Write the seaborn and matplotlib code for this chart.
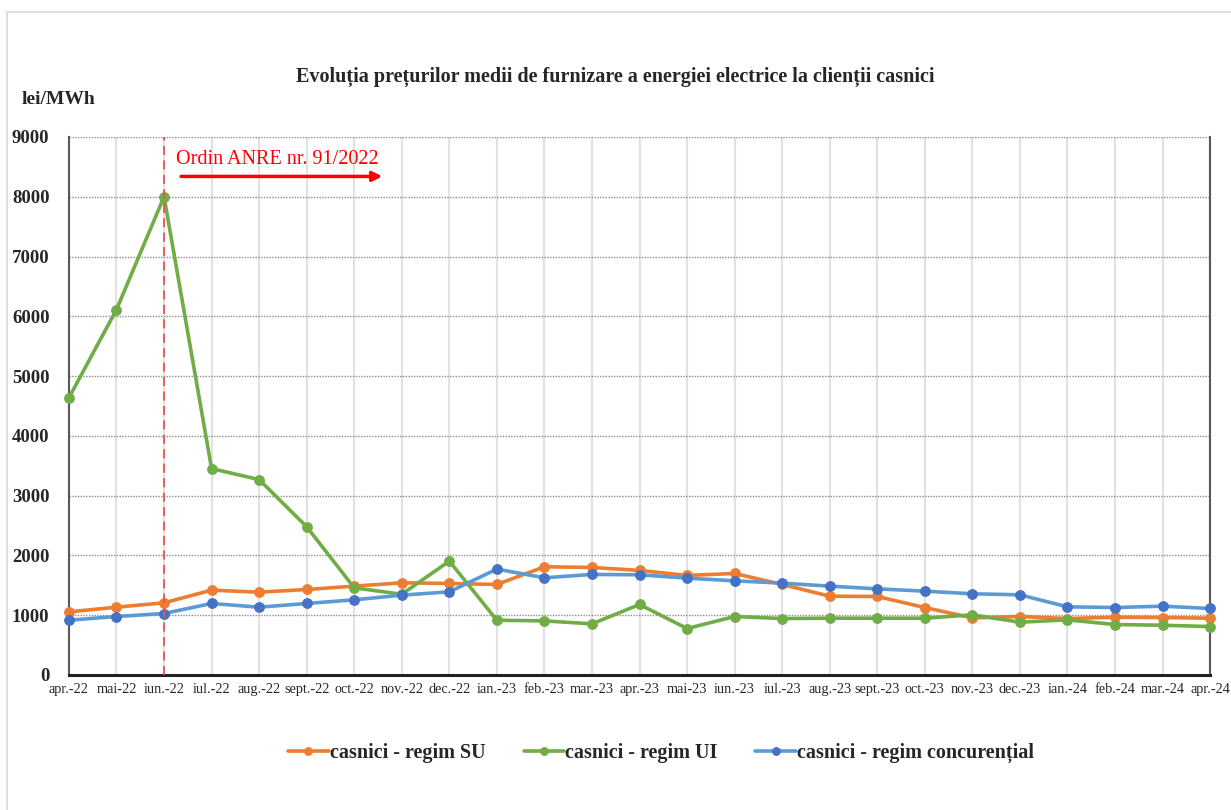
import seaborn as sns
import pandas as pd
import numpy as np
import matplotlib.pyplot as plt
from matplotlib.patches import Rectangle

months = ['apr.-22', 'mai-22', 'iun.-22', 'iul.-22', 'aug.-22', 'sept.-22', 'oct.-22', 'nov.-22',
          'dec.-22', 'ian.-23', 'feb.-23', 'mar.-23', 'apr.-23', 'mai-23', 'iun.-23', 'iul.-23',
          'aug.-23', 'sept.-23', 'oct.-23', 'nov.-23', 'dec.-23', 'ian.-24', 'feb.-24', 'mar.-24',
          'apr.-24']

regim_su = [1056, 1134, 1207, 1419, 1385, 1430, 1486, 1542, 1531, 1514, 1810, 1799, 1749,
            1665, 1698, 1514, 1318, 1313, 1128, 955, 978, 944, 966, 961, 950]
regim_ui = [4637, 6112, 8000, 3453, 3268, 2480, 1458, 1350, 1905, 916, 905, 855, 1179,
            777, 978, 944, 950, 950, 950, 1006, 883, 922, 844, 832, 810]
regim_conc = [916, 978, 1028, 1196, 1134, 1196, 1257, 1335, 1391, 1771, 1626, 1682, 1676,
              1620, 1575, 1536, 1486, 1441, 1402, 1358, 1341, 1140, 1128, 1151, 1112]

labels = ['casnici - regim SU', 'casnici - regim UI', 'casnici - regim concurențial']

df = pd.DataFrame({'idx': np.arange(len(months)), 'luna': months,
                   'SU': regim_su, 'UI': regim_ui, 'conc': regim_conc})

sns.set_style('white')
plt.rcParams['font.family'] = ['Liberation Serif', 'DejaVu Serif']

fig = plt.figure(figsize=(12.31, 8.10), dpi=100)
ax = fig.add_axes([0.056, 0.1667, 0.927, 0.6642])

# outer chart border
fig.patches.append(Rectangle((7 / 1231, -0.1), 1.2, (810 - 12) / 810 + 0.1,
                             transform=fig.transFigure, fill=False,
                             edgecolor='#D9D9D9', lw=1.2, zorder=0))

# vertical grid at each month, dotted horizontal grid
for i in range(len(months)):
    ax.axvline(i, color='#E2E2E2', lw=1.5, zorder=0)
for v in range(1000, 10000, 1000):
    ax.axhline(v, color='#8C8C8C', lw=1, ls=(0, (1, 1)), zorder=0.5)

sns.lineplot(data=df, x='idx', y='SU', ax=ax, color='#ED7D31', lw=2.6, marker='o',
             markersize=7, markeredgecolor='#ED7D31', label=labels[0], zorder=3,
             clip_on=False)
sns.lineplot(data=df, x='idx', y='UI', ax=ax, color='#70AD47', lw=2.6, marker='o',
             markersize=7, markeredgecolor='#70AD47', label=labels[1], zorder=3,
             clip_on=False)
sns.lineplot(data=df, x='idx', y='conc', ax=ax, color='#5B9BD5', lw=2.6, marker='o',
             markersize=7, markerfacecolor='#4472C4', markeredgecolor='#4472C4',
             label=labels[2], zorder=3, clip_on=False)

# Ordin ANRE marker
ax.axvline(2, color='#F05050', lw=1.3, ls=(0, (5, 3)), zorder=4)
ax.text(2.25, 8620, 'Ordin ANRE nr. 91/2022', color='red', fontsize=14.5,
        ha='left', va='center')
ax.annotate('', xy=(6.65, 8340), xytext=(2.3, 8340),
            arrowprops=dict(arrowstyle='-|>', color='red', lw=2.5, mutation_scale=14))

ax.set_xlim(0, len(months) - 1)
ax.set_ylim(0, 9000)
ax.set_xticks(df['idx'])
ax.set_xticklabels(months, fontsize=10.3)
ax.set_yticks(range(0, 10000, 1000))
ax.set_yticklabels([str(v) for v in range(0, 10000, 1000)], fontsize=13.5, fontweight='bold')
ax.tick_params(axis='both', length=0, pad=6)
ax.tick_params(axis='y', pad=14)
ax.set_xlabel('')
ax.set_ylabel('')

ax.spines['top'].set_visible(False)
ax.spines['left'].set_color('#595959')
ax.spines['left'].set_linewidth(1.5)
ax.spines['right'].set_color('#595959')
ax.spines['right'].set_linewidth(1.5)
ax.spines['bottom'].set_color('#222222')
ax.spines['bottom'].set_linewidth(2.2)

fig.text(0.5, (810 - 77) / 810,
         'Evoluția prețurilor medii de furnizare a energiei electrice la clienții casnici',
         ha='center', va='center', fontsize=14.5, fontweight='bold')
fig.text(22 / 1231, (810 - 100) / 810, 'lei/MWh', ha='left', va='center',
         fontsize=14, fontweight='bold')

handles, _ = ax.get_legend_handles_labels()
ax.get_legend().remove()
fig.legend(handles, labels, loc='center', bbox_to_anchor=(0.537, (810 - 753) / 810),
           ncol=3, frameon=False, prop={'size': 14.5, 'weight': 'bold'},
           handlelength=2.0, handletextpad=0.05, columnspacing=1.9, markerscale=0.8)

fig.savefig('out.png', dpi=100)
